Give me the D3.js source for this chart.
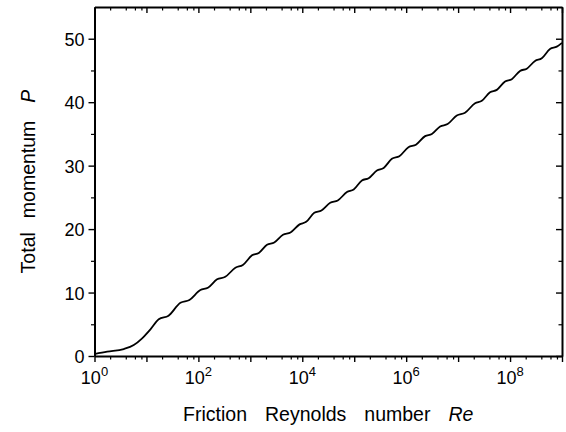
<!DOCTYPE html>
<html>
<head>
<meta charset="utf-8">
<script src="https://cdn.jsdelivr.net/npm/d3@7"></script>
<style>
  body { margin: 0; background: #fff; }
  svg text { font-family: "Liberation Sans", Arial, Helvetica, sans-serif; fill: #000; }
</style>
</head>
<body>
<div id="chart"></div>
<script>
// curve: log10(Re) and total momentum P
const reExp = [0, 0.244, 0.563, 0.756, 0.917, 1.077,
  1.237, 1.425, 1.654, 1.827, 2.038, 2.183, 2.360, 2.518, 2.712, 2.856,
  3.033, 3.163, 3.321, 3.460, 3.629, 3.773, 3.948, 4.075, 4.231, 4.369,
  4.538, 4.683, 4.860, 4.990, 5.148, 5.278, 5.437, 5.567, 5.725, 5.869,
  6.044, 6.188, 6.365, 6.495, 6.654, 6.798, 6.975, 7.133, 7.327, 7.457,
  7.615, 7.745, 7.904, 8.034, 8.192, 8.322, 8.481, 8.611, 8.769, 8.900, 9.0];
const momentum = [0.31, 0.68, 1.10, 1.73, 2.79, 4.20,
  5.78, 6.35, 8.39, 8.83, 10.39, 10.76, 12.08, 12.48, 13.91, 14.34,
  15.86, 16.23, 17.53, 17.88, 19.10, 19.46, 20.74, 21.14, 22.57, 22.92,
  24.14, 24.51, 25.83, 26.24, 27.67, 28.02, 29.24, 29.64, 31.07, 31.48,
  32.91, 33.29, 34.65, 34.98, 36.17, 36.55, 37.91, 38.34, 39.84, 40.22,
  41.57, 41.94, 43.26, 43.63, 44.93, 45.28, 46.50, 46.92, 48.39, 48.75, 49.35];

const xMajorExp = [0, 1, 2, 3, 4, 5, 6, 7, 8, 9];
const xLabelExp = [0, 2, 4, 6, 8];
const xMinorMult = [2, 4, 6, 8];
const yMajor = [0, 10, 20, 30, 40, 50];
const yMinor = [5, 15, 25, 35, 45];

const W = 566, H = 432;
const plot = { left: 94.5, right: 562, top: 7, bottom: 356 };

const svg = d3.select('#chart').append('svg')
  .attr('width', W)
  .attr('height', H);

const x = d3.scaleLog().domain([1, 1e9]).range([plot.left, plot.right]);
const y = d3.scaleLinear().domain([0, 55]).range([plot.bottom, plot.top]);

const xMajor = xMajorExp.map(e => Math.pow(10, e));
const xMinor = [];
xMajorExp.slice(0, -1).forEach(e => {
  xMinorMult.forEach(m => xMinor.push(m * Math.pow(10, e)));
});

function majorAxis(axis, tx, ty, labels) {
  const g = svg.append('g').attr('transform', `translate(${tx},${ty})`)
    .call(axis.tickSize(6).tickSizeOuter(0));
  g.select('.domain').attr('stroke-width', 2);
  g.selectAll('.tick line').attr('stroke-width', 1.4);
  if (!labels) g.selectAll('.tick text').remove();
  return g;
}
function minorAxis(axis, tx, ty) {
  svg.append('g').attr('transform', `translate(${tx},${ty})`)
    .call(axis.tickSize(3.5).tickSizeOuter(0).tickFormat(''))
    .call(g => g.select('.domain').remove())
    .call(g => g.selectAll('.tick line').attr('stroke-width', 1.2));
}

// bottom (ticks outward) and top (ticks inward)
majorAxis(d3.axisBottom(x).tickValues(xMajor).tickFormat(''), 0, plot.bottom);
minorAxis(d3.axisBottom(x).tickValues(xMinor), 0, plot.bottom);
majorAxis(d3.axisBottom(x).tickValues(xMajor).tickFormat(''), 0, plot.top);
minorAxis(d3.axisBottom(x).tickValues(xMinor), 0, plot.top);

// left (ticks outward, labelled) and right (ticks inward)
const gL = majorAxis(d3.axisLeft(y).tickValues(yMajor), plot.left, 0, true);
gL.selectAll('.tick text').attr('x', -10).attr('dy', '0.36em')
  .style('font-size', '18px');
minorAxis(d3.axisLeft(y).tickValues(yMinor), plot.left, 0);
majorAxis(d3.axisLeft(y).tickValues(yMajor).tickFormat(''), plot.right, 0);
minorAxis(d3.axisLeft(y).tickValues(yMinor), plot.right, 0);

// x tick labels as powers of ten
xLabelExp.forEach(e => {
  const t = svg.append('text')
    .attr('x', x(Math.pow(10, e)))
    .attr('y', plot.bottom + 28)
    .attr('text-anchor', 'middle')
    .style('font-size', '18px');
  t.append('tspan').text('10');
  t.append('tspan').attr('dy', -8).style('font-size', '13px').text(e);
});

// the curve
const pts = reExp.map((e, i) => [Math.pow(10, e), momentum[i]]);
const line = d3.line()
  .x(d => x(d[0]))
  .y(d => y(d[1]))
  .curve(d3.curveMonotoneX);

svg.append('path')
  .datum(pts)
  .attr('fill', 'none')
  .attr('stroke', '#000')
  .attr('stroke-width', 1.8)
  .attr('stroke-linejoin', 'round')
  .attr('d', line);

// axis titles
const xt = svg.append('text')
  .attr('x', (plot.left + plot.right) / 2)
  .attr('y', 421)
  .attr('text-anchor', 'middle')
  .style('font-size', '19.5px');
xt.append('tspan').text('Friction');
xt.append('tspan').attr('dx', 18).text('Reynolds');
xt.append('tspan').attr('dx', 18).text('number');
xt.append('tspan').attr('dx', 18).style('font-style', 'italic').text('Re');

const yt = svg.append('text')
  .attr('transform', `translate(35,${(plot.top + plot.bottom) / 2}) rotate(-90)`)
  .attr('text-anchor', 'middle')
  .style('font-size', '19.5px');
yt.append('tspan').text('Total');
yt.append('tspan').attr('dx', 14).text('momentum');
yt.append('tspan').attr('dx', 18).style('font-style', 'italic').text('P');
</script>
</body>
</html>
